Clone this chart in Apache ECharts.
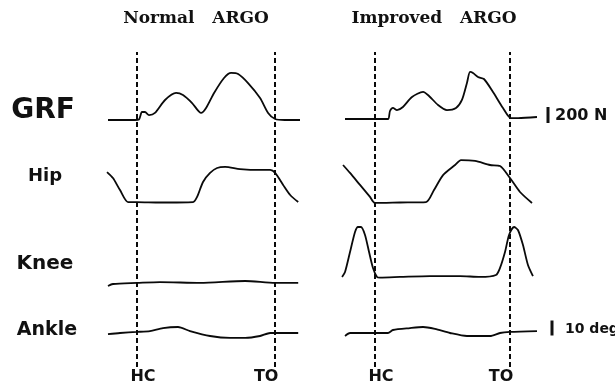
<!DOCTYPE html>
<html><head><meta charset="utf-8">
<script src="https://cdn.jsdelivr.net/npm/echarts@6/dist/echarts.min.js"></script>
<style>html,body{margin:0;padding:0;background:#fff}#c{width:615px;height:387px}</style>
</head><body><div id="c"></div>
<script>
// x values: % of stance phase (HC = 0, TO = 100); GRF in N, joint angles in deg
const panelTitles = ['Normal   ARGO', 'Improved   ARGO'];
const rowLabels = ['GRF', 'Hip', 'Knee', 'Ankle'];
const eventT = [0, 100];
const eventLabels = ['HC', 'TO'];
const scaleBarLabels = ['200 N', '10 deg'];
const scaleBarSizes = [200, 10];

const normalGrfT = [-21,-1.4,1.4,3.6,5.8,8.7,13,20.3,28.3,33.3,39.9,46.4,50,55.8,63,68.1,73.2,80.4,89.1,94.9,100,107,118];
const normalGrfV = [0,0,6,100,100,62,88,250,338,312,212,88,150,338,525,588,575,462,275,88,12,0,0];
const improvedGrfT = [-22.2,0,9.6,11.1,13.3,16.3,20.7,27.4,35.6,40,46.7,53.3,60,64.4,68.1,70.4,72.6,76.3,80.7,87.4,94.8,100.7,106,120];
const improvedGrfV = [0,0,0,100,138,112,150,275,338,288,175,112,138,238,450,588,575,525,500,338,138,12,12,25];

const normalHipT = [-21.7,-17.4,-12.3,-6.5,0,16.7,40.6,43.5,47.8,52.9,58,63.8,74.6,89.1,96.4,100,105.8,110.9,116.7];
const normalHipV = [15.3,11.3,3.3,-4.7,-4.7,-5,-4.7,-1.3,8.7,14.7,18,18.7,17.3,16.7,16.7,14.7,6.7,0,-4.7];
const improvedHipT = [-23.7,-18.5,-11.1,-3.7,0,18.5,37.8,43.7,50.4,59.3,63.7,74.1,85.2,92.6,100,107.4,116.3];
const improvedHipV = [20,14.7,6.7,-1.3,-5.3,-5,-4.7,3.3,13.3,20,23.3,22.7,20,19.3,11.3,2,-5.3];

const normalKneeT = [-21,-17.4,0,16.7,45.7,78.3,100,116.7];
const normalKneeV = [-2.3,-1,-0.3,0.3,-0.3,1,-0.3,-0.3];
const improvedKneeT = [-24.4,-22.2,-18.5,-14.8,-12.6,-10.4,-7.4,-4.4,-1.5,1.5,3.7,18.5,40.7,63,77.8,89.6,92.6,96.3,99.3,103,105.9,109.6,113.3,117];
const improvedKneeV = [3.7,7,20.3,33.7,37,37,31.7,20.3,9.7,3.7,3.3,3.7,4.3,4.3,3.7,5,9.7,20.3,31.7,37,35,25,11.7,4.3];

const normalAnkleT = [-21,-12.3,0,9.4,18.8,29.7,38.4,52.9,67.4,78.3,89.1,96.4,107.2,116.7];
const normalAnkleV = [-2.7,-2,-1.3,-0.7,1.3,2,-0.7,-4,-5.3,-5.3,-4,-2,-2,-2];
const improvedAnkleT = [-22.2,-18.5,0,9.6,13.3,25.9,35.6,44.4,55.6,68.1,85.2,92.6,100,120];
const improvedAnkleV = [-4,-2,-2,-2,0,1.3,2,0.7,-2,-4,-4,-2,-1.3,-0.7];

const traces = [
  [[normalGrfT, normalGrfV], [normalHipT, normalHipV], [normalKneeT, normalKneeV], [normalAnkleT, normalAnkleV]],
  [[improvedGrfT, improvedGrfV], [improvedHipT, improvedHipV], [improvedKneeT, improvedKneeV], [improvedAnkleT, improvedAnkleV]]
];

// layout
const panelX = [{left: 106.6, width: 193.4, min: -22, max: 118}, {left: 341.25, width: 195.75, min: -25, max: 120}];
const rowLayout = [
  {top: [60, 59], height: 80, min: -250, max: 750},
  {top: [150, 150], height: 60, min: -10, max: 30},
  {top: [215, 215], height: 75, min: -5, max: 45},
  {top: [315, 315], height: 30, min: -10, max: 10}
];
const zip = (t, v) => t.map((x, i) => [x, v[i]]);

const grid = [], xAxis = [], yAxis = [], series = [];
for (let p = 0; p < 2; p++) {
  for (let r = 0; r < 4; r++) {
    const gi = grid.length;
    grid.push({left: panelX[p].left, width: panelX[p].width, top: rowLayout[r].top[p], height: rowLayout[r].height, containLabel: false});
    xAxis.push({type: 'value', gridIndex: gi, min: panelX[p].min, max: panelX[p].max, show: false});
    yAxis.push({type: 'value', gridIndex: gi, min: rowLayout[r].min, max: rowLayout[r].max, show: false});
    series.push({
      type: 'line', xAxisIndex: gi, yAxisIndex: gi, data: zip(traces[p][r][0], traces[p][r][1]),
      showSymbol: false, smooth: 0.25, clip: false, silent: true,
      lineStyle: {color: '#0a0a0a', width: 1.8}
    });
  }
}
for (let p = 0; p < 2; p++) {
  const gi = grid.length;
  grid.push({left: panelX[p].left, width: panelX[p].width, top: 52, height: 315});
  xAxis.push({type: 'value', gridIndex: gi, min: panelX[p].min, max: panelX[p].max, show: false});
  yAxis.push({type: 'value', gridIndex: gi, min: 0, max: 1, show: false});
  series.push({
    type: 'line', xAxisIndex: gi, yAxisIndex: gi, data: [], silent: true,
    markLine: {
      silent: true, symbol: 'none', animation: false,
      label: {show: false},
      lineStyle: {color: '#0a0a0a', width: 2, type: [5, 3]},
      data: eventT.map(t => ({xAxis: t}))
    }
  });
}

const chart = echarts.init(document.getElementById('c'), null, {renderer: 'canvas'});
chart.setOption({backgroundColor: '#fff', animation: false, grid, xAxis, yAxis, series});

function txt(text, x, y, size, family, align) {
  return {type: 'text', x, y, style: {text, fontSize: size, fontWeight: 'bold', fontFamily: family,
    fill: '#111', align: align || 'center', verticalAlign: 'middle', textAlign: align || 'center', textVerticalAlign: 'middle'}};
}
const sans = 'DejaVu Sans';
const graphic = [];
const titleX = [196, 434];
panelTitles.forEach((t, i) => graphic.push(txt(t, titleX[i], 19, 17, 'DejaVu Serif')));
const labelPos = [[43, 111, 28], [45, 176, 18], [45, 264, 20], [47, 330, 19]];
rowLabels.forEach((t, i) => graphic.push(txt(t, labelPos[i][0], labelPos[i][1], labelPos[i][2], sans)));
const evOff = [6, -9];
for (let p = 0; p < 2; p++) {
  eventT.forEach((t, i) => {
    const px = chart.convertToPixel({xAxisIndex: 8 + p}, t);
    graphic.push(txt(eventLabels[i], px + evOff[i], 377, 16, sans));
  });
}
// scale bars, sized through the axes
const barAxes = [4, 7];
const barCentre = [115, 328];
const barX = [548, 552];
const barGap = [7, 13];
const barFont = [16, 14];
barAxes.forEach((ax, i) => {
  const y0 = chart.convertToPixel({yAxisIndex: ax}, 0);
  const y1 = chart.convertToPixel({yAxisIndex: ax}, scaleBarSizes[i]);
  const h = Math.abs(y0 - y1);
  graphic.push({type: 'line', shape: {x1: barX[i], y1: barCentre[i] - h / 2, x2: barX[i], y2: barCentre[i] + h / 2},
    style: {stroke: '#111', lineWidth: 3}});
  graphic.push(txt(scaleBarLabels[i], barX[i] + barGap[i], barCentre[i] + 1, barFont[i], sans, 'left'));
});
chart.setOption({graphic});
</script>
</body></html>
